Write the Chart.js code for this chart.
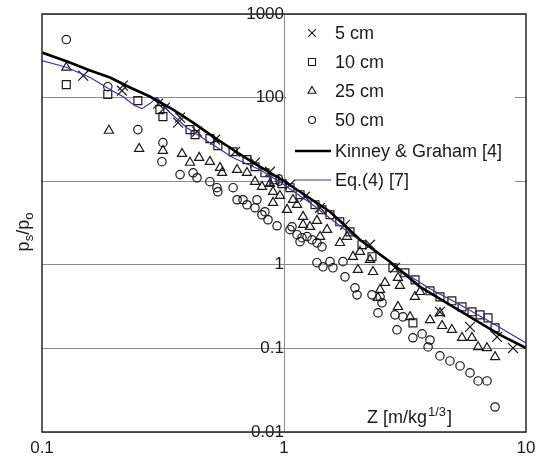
<!DOCTYPE html>
<html>
<head>
<meta charset="utf-8">
<script src="https://cdn.jsdelivr.net/npm/chart.js@4.4.1/dist/chart.umd.min.js"></script>
<style>
  html, body { margin: 0; padding: 0; background: #fff; }
  canvas { display: block; }
</style>
</head>
<body>
<canvas id="chart" width="542" height="458"></canvas>
<script>
const FONT = "'Liberation Sans', Arial, Helvetica, sans-serif";

// axis ticks
const xTicks = [0.1, 1, 10];
const xTickLabels = ["0.1", "1", "10"];
const yTicks = [0.01, 0.1, 1, 10, 100, 1000];
const yTickLabels = ["0.01", "0.1", "1", "10", "100", "1000"];

// Kinney & Graham [4]
const kinneyZ = [0.1, 0.127, 0.158, 0.191, 0.231, 0.279, 0.348, 0.421, 0.509, 0.616, 0.745, 0.936, 1.165, 1.549, 2.061, 2.742, 3.648, 4.853, 6.155, 7.81, 10];
const kinneyP = [346, 270, 211, 174, 132, 103, 71.8, 50.2, 34.1, 23.8, 16.7, 11.3, 7.48, 4.31, 1.99, 1.09, 0.545, 0.332, 0.219, 0.145, 0.101];

// Eq.(4) [7]
const eq4Z = [0.1, 0.127, 0.158, 0.191, 0.216, 0.242, 0.259, 0.279, 0.299, 0.338, 0.397, 0.494, 0.616, 0.796, 1, 1.28, 1.70, 2.27, 3.01, 4.01, 5.34, 7.10, 10];
const eq4P = [277, 229, 174, 125, 103, 80, 73.8, 84.7, 100, 66.1, 43.7, 28.9, 19.1, 13.7, 9.08, 5.53, 2.93, 1.60, 0.871, 0.516, 0.332, 0.208, 0.116];

// 5 cm
const cm5Z = [0.148, 0.216, 0.214, 0.302, 0.322, 0.372, 0.365, 0.437, 0.519, 0.628, 0.759, 0.875, 1.059, 1.221, 1.409, 1.787, 2.267, 2.875, 4.41, 5.87, 7.59, 8.84];
const cm5P = [183, 139, 121, 84.7, 75.9, 57.6, 50.2, 39.2, 31.4, 22.5, 16.7, 13.0, 9.08, 6.52, 4.81, 3.01, 1.74, 0.921, 0.274, 0.181, 0.137, 0.101];

// 10 cm
const cm10Z = [0.126, 0.187, 0.249, 0.307, 0.316, 0.409, 0.429, 0.494, 0.533, 0.616, 0.703, 0.759, 0.834, 0.918, 0.981, 1.059, 1.165, 1.343, 1.435, 1.549, 1.70, 1.874, 2.10, 2.31, 2.82, 3.16, 3.48, 4.01, 4.41, 4.94, 5.44, 5.98, 6.46, 6.97, 7.45, 3.41];
const cm10P = [143, 109, 92, 71.8, 59.2, 41.4, 36.1, 32.3, 26.6, 22.5, 18.1, 14.9, 12.6, 10.4, 9.33, 8.36, 6.89, 5.23, 4.56, 3.97, 3.27, 2.48, 1.74, 1.25, 0.921, 0.802, 0.661, 0.489, 0.414, 0.371, 0.314, 0.274, 0.252, 0.232, 0.176, 0.202];

// 25 cm
const cm25Z = [0.126, 0.189, 0.252, 0.316, 0.379, 0.409, 0.446, 0.494, 0.544, 0.555, 0.640, 0.703, 0.759, 0.811, 0.875, 0.901, 0.962, 0.901, 1.029, 1.089, 1.132, 1.199, 1.199, 1.28, 1.368, 1.409, 1.506, 1.703, 1.821, 1.928, 2.061, 2.02, 2.267, 2.333, 2.494, 2.614, 2.958, 3.013, 2.445, 3.476, 3.648, 2.958, 3.317, 4.012, 4.41, 4.50, 4.94, 5.44, 5.98, 6.34, 6.90, 7.45];
const cm25P = [229, 40.3, 24.5, 23.2, 21.3, 16.7, 19.1, 17.1, 14.5, 12.6, 13.7, 12.6, 9.86, 8.59, 9.33, 7.48, 6.70, 5.53, 4.56, 6.00, 5.23, 3.76, 3.01, 2.85, 3.37, 2.17, 2.63, 1.83, 2.17, 1.25, 1.43, 0.871, 1.15, 0.824, 0.502, 0.609, 0.699, 0.561, 0.403, 0.414, 0.475, 0.314, 0.238, 0.219, 0.266, 0.186, 0.167, 0.134, 0.134, 0.104, 0.101, 0.0791];

// 50 cm
const cm50Z = [0.126, 0.187, 0.249, 0.316, 0.313, 0.372, 0.421, 0.437, 0.494, 0.528, 0.533, 0.616, 0.640, 0.703, 0.759, 0.773, 0.811, 0.859, 0.936, 0.834, 0.677, 1.059, 1.079, 1.132, 1.165, 1.187, 1.245, 1.305, 1.368, 1.368, 1.435, 1.449, 1.549, 1.593, 1.753, 1.787, 1.965, 2.003, 2.31, 2.494, 2.541, 2.445, 2.875, 3.10, 2.93, 3.41, 3.72, 4.01, 3.94, 4.41, 4.85, 5.34, 5.87, 6.34, 6.90, 7.45];
const cm50P = [495, 135, 41.4, 28.9, 17.1, 12.0, 12.6, 11.0, 9.86, 8.36, 7.48, 8.36, 6.00, 5.23, 4.81, 6.00, 3.97, 3.46, 2.93, 4.31, 6.00, 2.63, 2.85, 2.29, 1.89, 2.11, 2.17, 1.99, 1.83, 1.06, 1.64, 0.946, 1.09, 0.921, 1.09, 0.718, 0.530, 0.437, 0.437, 0.414, 0.351, 0.266, 0.252, 0.238, 0.167, 0.134, 0.149, 0.126, 0.104, 0.0813, 0.0708, 0.0617, 0.0509, 0.0408, 0.0408, 0.0199];

const pts = (xs, ys) => xs.map((x, i) => ({ x: x, y: ys[i] }));

function scatterSet(label, xs, ys, style, radius, legendRadius) {
  return {
    label: label,
    data: pts(xs, ys),
    pointStyle: style,
    pointRadius: radius,
    legendRadius: legendRadius,
    pointBorderColor: "#1a1a1a",
    pointBackgroundColor: "rgba(0,0,0,0)",
    pointBorderWidth: 1.2,
    showLine: false,
    order: 1
  };
}

function lineSet(label, xs, ys, color, width) {
  return {
    label: label,
    data: pts(xs, ys),
    borderColor: color,
    borderWidth: width,
    pointRadius: 0,
    showLine: true,
    tension: 0,
    fill: false,
    order: 0
  };
}

const datasets = [
  scatterSet("5 cm", cm5Z, cm5P, "crossRot", 7, 5.5),
  scatterSet("10 cm", cm10Z, cm10P, "rect", 5.6, 5),
  scatterSet("25 cm", cm25Z, cm25P, "triangle", 5.3, 4.6),
  scatterSet("50 cm", cm50Z, cm50P, "circle", 4.2, 3.5),
  lineSet("Kinney & Graham [4]", kinneyZ, kinneyP, "#000000", 2.6),
  lineSet("Eq.(4) [7]", eq4Z, eq4P, "#4b2f9b", 1.2)
];

function pickLabel(ticks, labels, v) {
  const i = ticks.findIndex(t => Math.abs(Math.log10(t) - Math.log10(v)) < 1e-6);
  return i >= 0 ? labels[i] : "";
}

// legend box drawn inside the plot, behind the data
const legendBox = {
  id: "legendBox",
  beforeDatasetsDraw(chart) {
    const ctx = chart.ctx;
    const area = chart.chartArea;
    const xOne = chart.scales.x.getPixelForValue(1);
    ctx.save();
    ctx.fillStyle = "#ffffff";
    ctx.fillRect(xOne + 2, area.top + 1, area.right - 11 - (xOne + 2), 181);
    const rowY = [33, 62, 91, 120, 151, 180];
    ctx.font = "18px " + FONT;
    ctx.textBaseline = "middle";
    ctx.textAlign = "left";
    chart.data.datasets.forEach((ds, i) => {
      const y = rowY[i];
      if (ds.showLine) {
        ctx.strokeStyle = ds.borderColor;
        ctx.lineWidth = ds.borderWidth;
        ctx.beginPath();
        ctx.moveTo(295, y);
        ctx.lineTo(331, y);
        ctx.stroke();
      } else {
        ctx.strokeStyle = ds.pointBorderColor;
        ctx.fillStyle = "rgba(0,0,0,0)";
        ctx.lineWidth = 1.1;
        Chart.helpers.drawPoint(ctx, { pointStyle: ds.pointStyle, radius: ds.legendRadius, rotation: 0, borderWidth: 1.1 }, 312, y);
      }
      ctx.fillStyle = "#1a1a1a";
      ctx.fillText(ds.label, 335, y + 1);
    });
    ctx.restore();
  }
};

// outer frame and axis titles
const frame = {
  id: "frame",
  afterDraw(chart) {
    const ctx = chart.ctx;
    const a = chart.chartArea;
    ctx.save();
    ctx.strokeStyle = "#333333";
    ctx.lineWidth = 1.6;
    ctx.strokeRect(a.left, a.top, a.right - a.left, a.bottom - a.top);

    ctx.fillStyle = "#1a1a1a";
    ctx.textBaseline = "alphabetic";
    ctx.textAlign = "left";

    // y title: p_s/p_o, rotated
    ctx.save();
    ctx.translate(29, 232);
    ctx.rotate(-Math.PI / 2);
    const big = "18px " + FONT, small = "13px " + FONT;
    const parts = [["p", big, 0], ["s", small, 4], ["/p", big, 0], ["o", small, 4]];
    let w = 0;
    parts.forEach(p => { ctx.font = p[1]; w += ctx.measureText(p[0]).width; });
    let cx = -w / 2;
    parts.forEach(p => {
      ctx.font = p[1];
      ctx.fillText(p[0], cx, p[2]);
      cx += ctx.measureText(p[0]).width;
    });
    ctx.restore();

    // x title: Z [m/kg^1/3]
    let x = 367;
    const base = 423;
    ctx.font = big;
    ctx.fillText("Z [m/kg", x, base);
    x += ctx.measureText("Z [m/kg").width + 1;
    ctx.font = small;
    ctx.fillText("1/3", x, base - 7);
    x += ctx.measureText("1/3").width + 1;
    ctx.font = big;
    ctx.fillText("]", x, base);
    ctx.restore();
  }
};

new Chart(document.getElementById("chart").getContext("2d"), {
  type: "scatter",
  data: { datasets: datasets },
  options: {
    responsive: false,
    animation: false,
    devicePixelRatio: 1,
    layout: { padding: { left: 42, right: 16, top: 14, bottom: 0 } },
    plugins: {
      legend: { display: false },
      tooltip: { enabled: false }
    },
    scales: {
      x: {
        type: "logarithmic",
        position: "bottom",
        min: 0.1,
        max: 10,
        afterBuildTicks: s => { s.ticks = xTicks.map(v => ({ value: v })); },
        afterFit: s => { s.height = 26; },
        ticks: {
          autoSkip: false,
          maxRotation: 0,
          padding: 6,
          color: "#1a1a1a",
          font: { family: FONT, size: 17 },
          callback: v => pickLabel(xTicks, xTickLabels, v)
        },
        grid: { display: false, drawTicks: false },
        border: { display: false }
      },
      y: {
        type: "logarithmic",
        position: { x: 1 },
        min: 0.01,
        max: 1000,
        afterBuildTicks: s => { s.ticks = yTicks.map(v => ({ value: v })); },
        ticks: {
          autoSkip: false,
          color: "#1a1a1a",
          font: { family: FONT, size: 17 },
          callback: v => pickLabel(yTicks, yTickLabels, v)
        },
        grid: { color: "#8a8a8a", lineWidth: 1, drawTicks: true, tickLength: 7 },
        border: { display: true, color: "#8a8a8a", width: 1 }
      }
    }
  },
  plugins: [legendBox, frame]
});
</script>
</body>
</html>
